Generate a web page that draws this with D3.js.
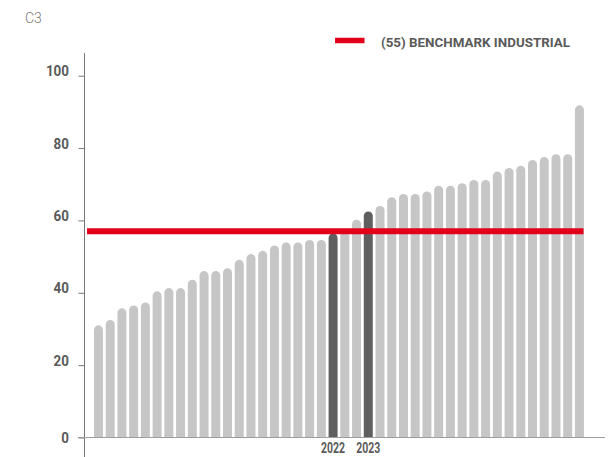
<!DOCTYPE html>
<html lang="en">
<head>
<meta charset="utf-8">
<title>C3 benchmark</title>
<script src="https://cdn.jsdelivr.net/npm/d3@7"></script>
<style>
  body { margin: 0; background: #fff; }
  text { font-family: Roboto, "DejaVu Sans", sans-serif; }
</style>
</head>
<body>
<script>
// one bar per company, sorted; the two dark ones are our 2022 and 2023 scores
var scores = [31, 32.5, 35.7, 36.5, 37.3, 40.4, 41.3, 41.3, 43.6, 46, 46, 46.8, 49.1, 50.7,
  51.6, 53.1, 53.9, 53.9, 54.6, 54.6, 56.4, 57, 60.2, 62.5, 64, 66.4, 67.3, 67.3,
  68, 69.6, 69.6, 70.3, 71.2, 71.2, 73.5, 74.5, 75.1, 76.7, 77.5, 78.3, 78.3, 91.8];
var barLabels = scores.map(function(d, i) { return i == 20 ? "2022" : i == 23 ? "2023" : ""; });
var yTicks = [0, 20, 40, 60, 80, 100];
var benchmark = 57;
var benchmarkLabel = "(55) BENCHMARK INDUSTRIAL";

var width = 615, height = 457;

var svg = d3.select("body").append("svg")
  .attr("width", width)
  .attr("height", height);

var x = d3.scaleBand()
  .domain(d3.range(scores.length))
  .range([88.1, 589.8])
  .paddingInner(0.233)
  .paddingOuter(0.5);

var y = d3.scaleLinear()
  .domain([0, 100])
  .range([437.5, 75.7]);

svg.append("text")
  .attr("x", 25).attr("y", 22.5)
  .style("font-size", "14px")
  .style("font-weight", 300)
  .style("fill", "#777")
  .text("C3");

// bars, rounded on top
var bw = x.bandwidth(), r = bw / 2;
svg.append("g").selectAll("path")
  .data(scores)
  .enter()
  .append("path")
  .attr("d", function(d, i) {
    var x0 = x(i), top = y(d), base = y(0);
    return "M" + x0 + "," + base + "V" + (top + r) +
      "A" + r + "," + r + " 0 0 1 " + (x0 + bw) + "," + (top + r) +
      "V" + base + "Z";
  })
  .style("fill", function(d, i) { return barLabels[i] ? "#5f5f5f" : "#c6c6c6"; });

// y axis
var yAxis = svg.append("g")
  .attr("transform", "translate(84.5,0)")
  .call(d3.axisLeft(y).tickValues(yTicks).tickSize(6).tickPadding(9.5));
yAxis.select(".domain").remove();
yAxis.selectAll(".tick line").attr("stroke", "#777");
yAxis.selectAll(".tick text")
  .attr("dy", function(d) { return d == 0 ? "0.35em" : "0"; })
  .attr("textLength", function(d) { return String(d).length * 7.7; })
  .attr("lengthAdjust", "spacingAndGlyphs")
  .style("font-size", "15px")
  .style("font-weight", "bold")
  .style("fill", "#5a5a5a");
svg.append("line")
  .attr("x1", 84.5).attr("x2", 84.5)
  .attr("y1", 53).attr("y2", height)
  .attr("stroke", "#777");

// baseline
svg.append("line")
  .attr("x1", 78).attr("x2", 605)
  .attr("y1", y(0)).attr("y2", y(0))
  .attr("stroke", "#9e9e9e")
  .attr("stroke-width", 1.2);

// x labels
var xAxis = svg.append("g")
  .attr("transform", "translate(0," + y(0) + ")")
  .call(d3.axisBottom(x).tickSize(0).tickFormat(function(i) { return barLabels[i]; }));
xAxis.select(".domain").remove();
xAxis.selectAll(".tick text")
  .filter(function(i) { return barLabels[i] != ""; })
  .attr("y", 15.5).attr("dy", 0)
  .attr("textLength", 24).attr("lengthAdjust", "spacingAndGlyphs")
  .style("font-size", "14px")
  .style("font-weight", "bold")
  .style("fill", "#5a5a5a");

// benchmark line
svg.append("line")
  .attr("x1", 87).attr("x2", 583.5)
  .attr("y1", y(benchmark)).attr("y2", y(benchmark))
  .attr("stroke", "#e2001a")
  .attr("stroke-width", 6);

// legend
svg.append("line")
  .attr("x1", 335).attr("x2", 364.5)
  .attr("y1", 40.5).attr("y2", 40.5)
  .attr("stroke", "#e2001a")
  .attr("stroke-width", 5.5);
svg.append("text")
  .attr("x", 381).attr("y", 46.5)
  .attr("textLength", 189).attr("lengthAdjust", "spacingAndGlyphs")
  .style("font-size", "13px")
  .style("font-weight", "bold")
  .style("fill", "#5a5a5a")
  .text(benchmarkLabel);
</script>
</body>
</html>
